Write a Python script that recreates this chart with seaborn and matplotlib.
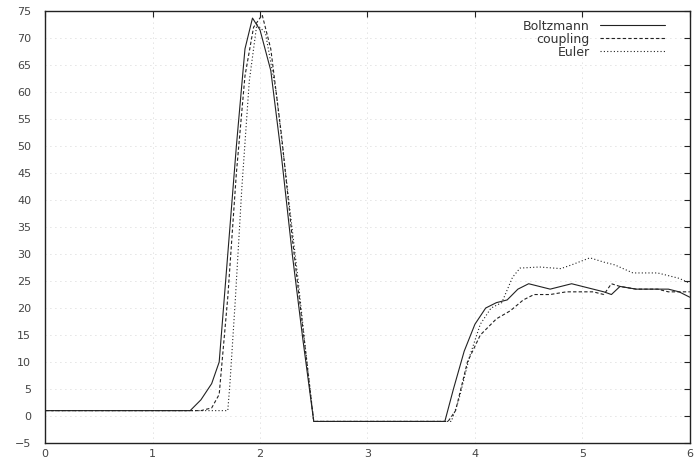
import numpy as np
import pandas as pd
import seaborn as sns
import matplotlib.pyplot as plt

# datos
boltzmann_x = [0, 1.35, 1.45, 1.55, 1.62, 1.7, 1.78, 1.86, 1.93, 2.0, 2.1, 2.2, 2.3, 2.4, 2.5,
               3.72, 3.8, 3.9, 4.0, 4.1, 4.2, 4.3, 4.4, 4.5, 4.6, 4.7, 4.8, 4.9, 5.0,
               5.1, 5.2, 5.27, 5.35, 5.5, 5.6, 5.7, 5.8, 5.9, 6.0]
boltzmann_y = [1, 1, 3, 6, 10, 30, 50, 68, 73.7, 71.5, 64, 48, 30, 14, -1,
               -1, 5, 12, 17, 20, 21, 21.5, 23.5, 24.5, 24, 23.5, 24, 24.5, 24,
               23.5, 23, 22.5, 24, 23.5, 23.5, 23.5, 23.5, 23, 22]

coupling_x = [0, 1.45, 1.55, 1.62, 1.7, 1.78, 1.86, 1.94, 2.02, 2.1, 2.2, 2.3, 2.4, 2.5,
              3.75, 3.82, 3.93, 4.05, 4.2, 4.33, 4.45, 4.55, 4.7, 4.85, 5.0,
              5.1, 5.2, 5.27, 5.35, 5.5, 5.6, 5.7, 5.8, 5.9, 6.0]
coupling_y = [1, 1, 1.5, 4, 22, 45, 63, 72, 74.3, 68, 52, 33, 16, -1,
              -1, 1, 10, 15, 18, 19.5, 21.5, 22.5, 22.5, 23, 23,
              23, 22.5, 24.5, 24, 23.5, 23.5, 23.5, 23, 23, 23]

euler_x = [0, 1.7, 1.72, 1.77, 1.83, 1.9, 1.97, 2.05, 2.15, 2.25, 2.35, 2.42, 2.5,
           3.78, 3.85, 3.95, 4.05, 4.15, 4.25, 4.35, 4.42, 4.6, 4.8, 4.9, 5.07,
           5.2, 5.3, 5.47, 5.6, 5.7, 5.8, 5.9, 6.0]
euler_y = [1, 1, 6, 21.5, 42, 62, 72.5, 71, 60, 43, 26, 13, -1,
           -1, 3, 11, 17, 20, 21, 25.7, 27.4, 27.6, 27.3, 28, 29.3,
           28.5, 28, 26.5, 26.5, 26.5, 26, 25.5, 24.6]

x_ticks = [0, 1, 2, 3, 4, 5, 6]
y_ticks = list(range(-5, 80, 5))

sns.set_style("white")
plt.rcParams['font.family'] = ['DejaVu Sans']

fig = plt.figure(figsize=(6.94, 4.61), dpi=100)
ax = fig.add_axes([0.065, 0.039, 0.929, 0.937])

sns.lineplot(x=boltzmann_x, y=boltzmann_y, ax=ax, color="#222222", lw=0.8,
             linestyle="-", label="Boltzmann", sort=False)
sns.lineplot(x=coupling_x, y=coupling_y, ax=ax, color="#222222", lw=0.8,
             linestyle=(0, (3, 2)), label="coupling", sort=False)
sns.lineplot(x=euler_x, y=euler_y, ax=ax, color="#222222", lw=0.8,
             linestyle=(0, (1, 2)), label="Euler", sort=False)

ax.set_xlim(0, 6)
ax.set_ylim(-5, 75)
ax.set_xticks(x_ticks)
ax.set_yticks(y_ticks)
ax.grid(True, color="#c8c8c8", linestyle=(0, (1, 5)), lw=0.6)
ax.tick_params(direction="in", length=4, width=0.8, top=True, right=True,
               labelsize=8, labelcolor="#444444", colors="#222222")
ax.tick_params(axis="y", pad=10)
ax.tick_params(axis="x", pad=4)
for s in ax.spines.values():
    s.set_color("#222222")
    s.set_linewidth(1.0)

leg = ax.legend(loc="upper right", frameon=False, markerfirst=False,
                fontsize=9, handlelength=5.2, handletextpad=0.8,
                labelspacing=0.0, borderaxespad=0.3, bbox_to_anchor=(0.975, 1.0))
for t in leg.get_texts():
    t.set_ha("right")
    t.set_color("#333333")

fig.savefig("out.png", dpi=100)
